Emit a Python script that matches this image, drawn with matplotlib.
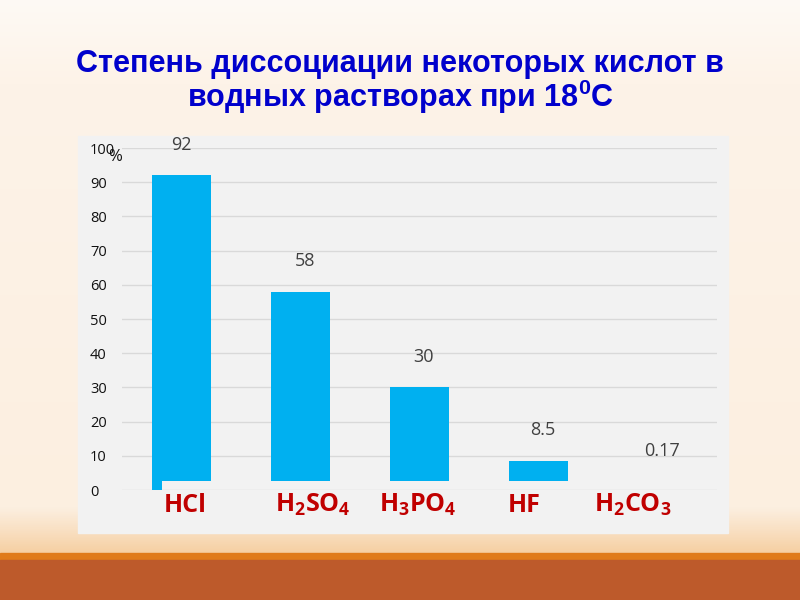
import numpy as np
import matplotlib
matplotlib.use("Agg")
import matplotlib.pyplot as plt
from matplotlib.colors import LinearSegmentedColormap

# data
acids = ["HCl", "H$_2$SO$_4$", "H$_3$PO$_4$", "HF", "H$_2$CO$_3$"]
degree = [92, 58, 30, 8.5, 0.17]
value_labels = ["92", "58", "30", "8.5", "0.17"]
y_ticks = [0, 10, 20, 30, 40, 50, 60, 70, 80, 90, 100]

# styling
bar_color = "#00b0f0"
bar_base = 2.6            # bars on the slide start a little above zero
label_shift_px = [4, 12, -2, -14, -25]

plt.rcParams["mathtext.default"] = "regular"

fig = plt.figure(figsize=(8, 6), dpi=100)

# slide background with gradient towards the bottom stripes
bg = fig.add_axes([0, 0, 1, 1], zorder=-10)
bg.set_axis_off()
cmap = LinearSegmentedColormap.from_list(
    "slide", [(0, "#fefaf5"), (0.15, "#fdf3e8"), (0.92, "#fcefe0"), (0.96, "#f9e0c3"), (1.0, "#f6d0a3")])
grad = np.linspace(0, 1, 256).reshape(-1, 1)
bg.imshow(grad, aspect="auto", cmap=cmap, extent=[0, 1, 0.078, 1])
bg.add_patch(plt.Rectangle((0, 0.067), 1, 0.012, color="#e07b1a"))
bg.add_patch(plt.Rectangle((0, 0), 1, 0.067, color="#bd5a2b"))
bg.add_patch(plt.Rectangle((0.0975, 0.1117), 0.8125, 0.6617, color="#f2f2f2"))
bg.set_xlim(0, 1)
bg.set_ylim(0, 1)

fig.text(0.5, 0.893, "Степень диссоциации некоторых кислот в", ha="center", va="center",
         fontsize=22, fontweight="bold", color="#0000cc", family="Liberation Sans")
fig.text(0.5, 0.838, "водных растворах при 18$^{0}$С", ha="center", va="center",
         fontsize=22, fontweight="bold", color="#0000cc", family="Liberation Sans")

ax = fig.add_axes([0.1525, 0.1833, 0.74375, 0.57])
ax.set_facecolor("none")
x = np.arange(len(acids))
heights = [max(v - bar_base, 0) for v in degree]
ax.bar(x, heights, width=0.5, bottom=bar_base, color=bar_color, zorder=3)
# small piece of the first bar that reaches down to zero
ax.bar(x[0] - 0.25, bar_base, width=0.09, align="edge", color=bar_color, zorder=3)

for xi, v, lab in zip(x, degree, value_labels):
    ax.annotate(lab, (xi, max(v, bar_base)), xytext=(3 if lab != "92" else 0, 22),
                textcoords="offset points", ha="center", va="center",
                fontsize=13, color="#404040", family="Open Sans")

ax.set_xlim(-0.5, 4.5)
ax.set_ylim(0, 100)
ax.set_yticks(y_ticks)
ax.yaxis.grid(True, color="#d9d9d9", lw=1, zorder=0)
ax.tick_params(axis="y", length=0, pad=23, labelsize=10.5, labelcolor="#111111")
for t in ax.get_yticklabels():
    t.set_horizontalalignment("left")
    t.set_family("Open Sans")
ax.set_xticks([])
for s in ax.spines.values():
    s.set_visible(False)

ax.text(-0.56, 97.5, "%", fontsize=12, ha="center", va="center", color="#111111", family="Open Sans")

for xi, name, dx in zip(x, acids, label_shift_px):
    ax.annotate(name, (xi, 0), xytext=(dx * 0.72, -11), textcoords="offset points",
                ha="center", va="center", fontsize=18, fontweight="bold",
                color="#c00000", family="Open Sans")

fig.savefig("out.png", dpi=100)
